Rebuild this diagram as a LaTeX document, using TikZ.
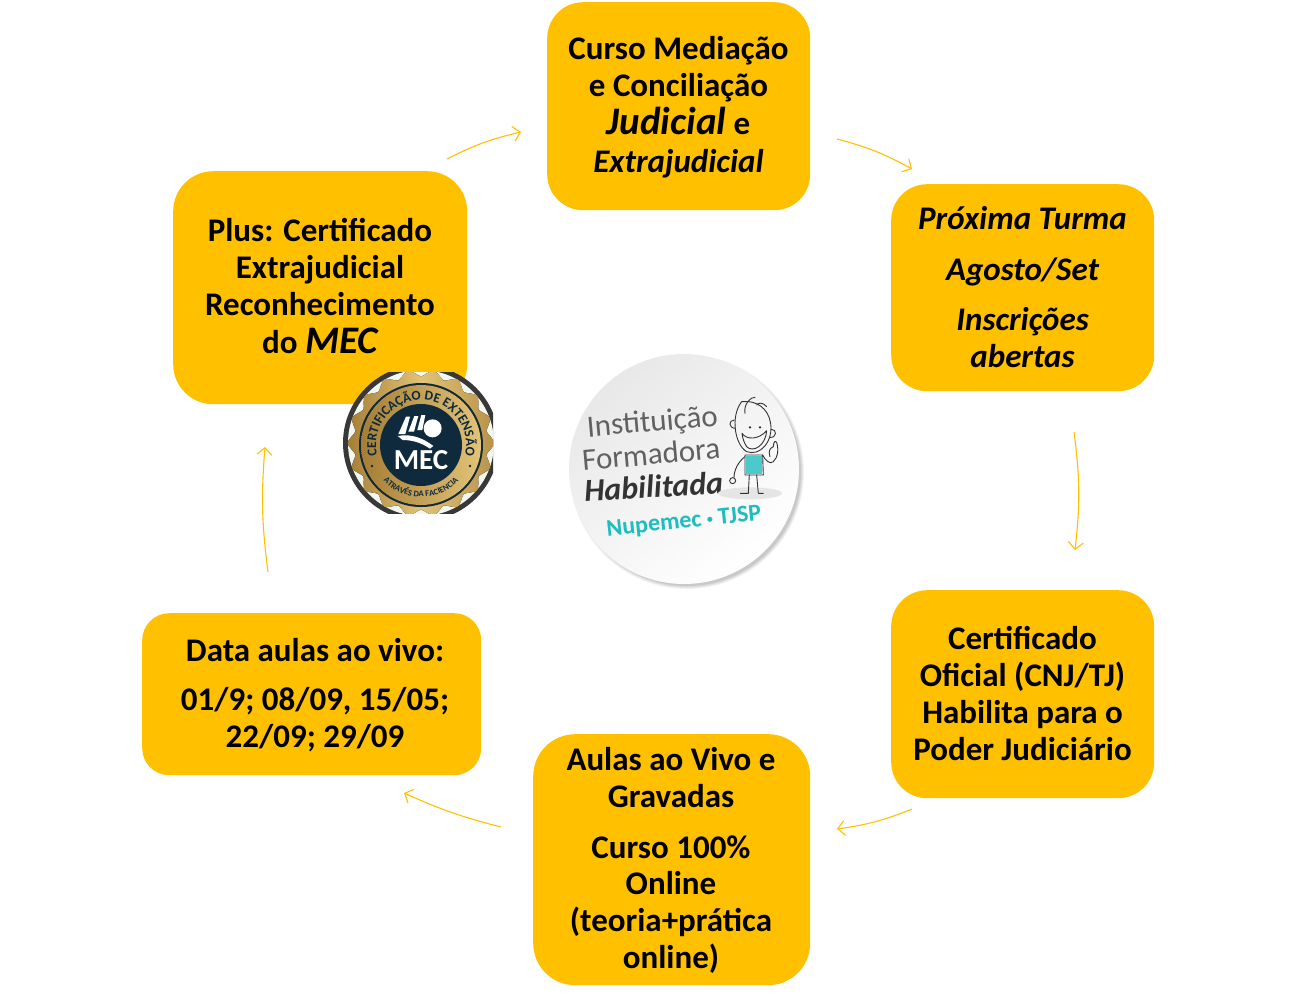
\documentclass[tikz,border=0pt]{standalone}
\usepackage{fontspec}
\setmainfont{Carlito}
\usetikzlibrary{arrows.meta,decorations.text,calc}
\definecolor{amber}{HTML}{FFC000}
\definecolor{navy}{HTML}{0F2A3C}
\definecolor{tealmark}{HTML}{1EBDBE}
\definecolor{goldd}{HTML}{A57E36}
\definecolor{goldl}{HTML}{E2C377}
\definecolor{pale}{HTML}{F1F6EF}
\tikzset{
  card/.style={fill=amber,draw=none,rounded corners=#1,inner sep=0pt,anchor=north west},
  cardtext/.style={align=center,inner sep=0pt,font=\fontsize{33}{36.7}\selectfont\bfseries,text=black},
  flow/.style={draw=amber,line width=1.1pt,-{Straight Barb[length=7pt,width=15pt,line width=1.1pt]}},
  inkline/.style={draw=black!80,line width=0.9pt,line cap=round,line join=round},
}
\newcommand{\bigit}[1]{{\fontsize{39}{36.7}\selectfont\itshape #1}}
\begin{document}
\begin{tikzpicture}[x=1pt,y=-1pt]
\useasboundingbox (0,0) rectangle (1304,997);
% cards
\node[card=36pt,minimum width=263pt,minimum height=208pt] (top) at (547,2) {};
\node[card=36pt,minimum width=263pt,minimum height=207pt] (next) at (891,184) {};
\node[card=36pt,minimum width=263pt,minimum height=208pt] (cert) at (891,590) {};
\node[card=42pt,minimum width=277pt,minimum height=251pt] (live) at (533,734) {};
\node[card=27pt,minimum width=339pt,minimum height=162pt] (dates) at (142,613) {};
\node[card=40pt,minimum width=294pt,minimum height=233pt] (plus) at (173,171) {};
% card texts
\node[cardtext] (toptxt) at (678.5,107.5) {Curso Mediação\\e Conciliação\\[1.5pt]\bigit{Judicial} e\\[1.5pt]\itshape Extrajudicial};
\node[cardtext,font=\fontsize{33}{36.7}\selectfont\bfseries\itshape] (nexttxt) at (1022.5,287) {Próxima Turma\\[14pt]Agosto/Set\\[13.5pt]Inscrições\\abertas};
\node[cardtext] (certtxt) at (1022.5,693.5) {Certificado\\Oficial (CNJ/TJ)\\Habilita para o\\Poder Judiciário};
\node[cardtext] (livetxt) at (671,860.5) {Aulas ao Vivo e\\Gravadas\\[14pt]Curso 100\%\\Online\\(teoria+prática\\online)};
\node[cardtext] (datestxt) at (315,695) {Data aulas ao vivo:\\[12pt]01/9; 08/09, 15/05;\\22/09; 29/09};
\node[cardtext] (plustxt) at (320,286) {Plus: Certificado\\Extrajudicial\\Reconhecimento\\[1pt]do \bigit{MEC}};
% connectors
\coordinate (a1s) at (447,159); \coordinate (a1e) at (521,132);
\coordinate (a2s) at (837,139); \coordinate (a2e) at (912,169);
\coordinate (a3s) at (1074,432); \coordinate (a3e) at (1075,550);
\coordinate (a4s) at (912,809); \coordinate (a4e) at (837,829);
\coordinate (a5s) at (501,827); \coordinate (a5e) at (404,793);
\coordinate (a6s) at (268,572); \coordinate (a6e) at (265,447);
\draw[flow] (a1s) to[bend left=7] (a1e);
\draw[flow] (a2s) to[bend left=7] (a2e);
\draw[flow] (a3s) to[bend left=7] (a3e);
\draw[flow] (a4s) to[bend left=7] (a4e);
\draw[flow] (a5s) to[bend left=5] (a5e);
\draw[flow] (a6s) to[bend left=6] (a6e);
% MEC seal
\begin{scope}
\clip (342,372) rectangle (493,513);
\fill[black!78] (421,443) circle (78pt);
\fill[pale] (421,443) circle (73pt);
\fill[left color=goldd,right color=goldd!70!goldl,middle color=goldl,draw=none]
  plot[smooth cycle,samples=72,domain=0:355] ({421+(70+3.5*cos(18*\x))*cos(\x)},{443-(70+3.5*cos(18*\x))*sin(\x)});
\fill[navy] (421,445) circle (62pt);
\fill[left color=goldd,right color=goldl] (421,445) circle (60pt);
\fill[navy] (421,445) circle (41pt);
\path[decorate,decoration={text along path,text align=center,
  text={|\fontsize{13.5}{13.5}\selectfont\bfseries\color{navy}|CERTIFICAÇÃO DE EXTENSÃO}}]
  plot[domain=200:-20,samples=50] ({421+45*cos(\x)},{445-45*sin(\x)});
\path[decorate,decoration={text along path,text align=center,
  text={|\fontsize{8.5}{8.5}\selectfont\bfseries\color{navy}|ATRAVÉS DA FACIENCIA}}]
  plot[domain=218:322,samples=30] ({421+52*cos(\x)},{445-52*sin(\x)});
\fill[navy] (372,466) circle (1.3pt) (470,466) circle (1.3pt);
\begin{scope}[shift={(330,360)},x=.3333pt,y=-.3333pt]
\fill[white] (228,170) -- (240,170) -- (226,222) -- (205,222) -- cycle;
\fill[white] (253,168) -- (265,168) -- (252,215) -- (235,215) -- cycle;
\fill[white] (274,165) -- (286,165) -- (277,210) -- (262,210) -- cycle;
\fill[white] (308,205) circle (9pt);
\fill[white] (203,228) .. controls (245,220) and (280,235) .. (310,258) -- (300,266) .. controls (270,245) and (240,240) .. (218,240) -- cycle;
\end{scope}
\node[font=\fontsize{29}{29}\selectfont\bfseries,text=white,inner sep=0pt] (meclogo) at (421,460) {MEC};
\end{scope}
% habilitation stamp
\foreach \o/\r in {.05/117pt,.05/116pt,.06/115pt,.07/114pt}{\fill[black,opacity=\o] (687,472) circle (\r);}
\shade[left color=black!9,right color=white,shading angle=40] (684,469) circle (115pt);
\node[font=\fontsize{31}{31}\selectfont,text=black!62,inner sep=0pt,rotate=5,anchor=west] (inst) at (587,429) {Instituição};
\node[font=\fontsize{31}{31}\selectfont,text=black!62,inner sep=0pt,rotate=5,anchor=west] (form) at (582,460) {Formadora};
\node[font=\fontsize{32}{32}\selectfont\bfseries\itshape,text=black!80,inner sep=0pt,rotate=3,anchor=west] (hab) at (584,490) {Habilitada};
\node[font=\fontsize{24}{24}\selectfont\bfseries,text=tealmark,inner sep=0pt,rotate=6,anchor=center] (nup) at (684,522) {Nupemec \raisebox{2pt}{\fontsize{12}{12}\selectfont•} TJSP};
\begin{scope}[shift={(560,345)},x=.3333pt,y=-.3333pt]
\fill[black!10] (570,445) ellipse (32pt and 6pt);
\fill[tealmark!80] (557,332) -- (607,332) -- (607,388) -- (557,388) -- cycle;
\draw[inkline] (545,170) .. controls (510,215) and (525,300) .. (560,320) .. controls (600,335) and (640,290) .. (632,235) .. controls (625,190) and (590,165) .. (545,170);
\draw[inkline] (555,205) .. controls (550,175) and (575,155) .. (585,157);
\draw[inkline] (590,180) .. controls (595,172) and (610,172) .. (620,185);
\draw[inkline] (523,225) .. controls (505,225) and (505,250) .. (527,250);
\draw[inkline] (634,253) .. controls (652,252) and (650,280) .. (630,277);
\fill[black!85] (570,247) circle (1.3pt) (600,247) circle (1.3pt);
\draw[inkline] (546,265) .. controls (560,285) and (595,285) .. (620,257) .. controls (618,300) and (580,325) .. (560,305) .. controls (552,293) and (548,280) .. (546,265) -- cycle;
\draw[inkline] (555,330) -- (555,390) -- (610,390) -- (608,330) -- cycle;
\draw[inkline] (555,335) .. controls (535,350) and (522,375) .. (522,398);
\draw[inkline] (518,407) circle (3pt);
\draw[inkline] (608,330) .. controls (615,345) and (630,360) .. (640,350) .. controls (655,335) and (655,315) .. (652,300) .. controls (648,280) and (640,290) .. (640,305) .. controls (628,310) and (625,320) .. (630,335);
\draw[inkline] (568,390) -- (565,445) -- (541,445);
\draw[inkline] (590,390) -- (595,445) -- (610,445);
\end{scope}
\end{tikzpicture}
\end{document}
